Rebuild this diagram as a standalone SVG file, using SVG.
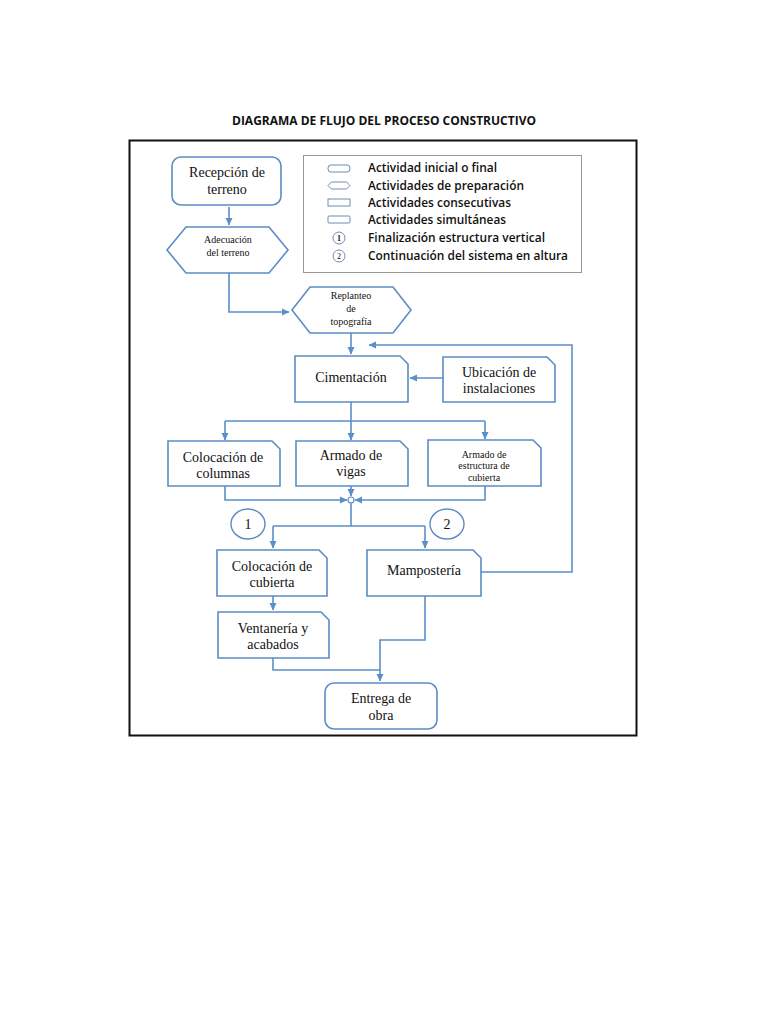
<svg xmlns="http://www.w3.org/2000/svg" width="768" height="1024" viewBox="0 0 768 1024">
<defs>
<marker id="ah" markerWidth="8" markerHeight="8" refX="7" refY="4" orient="auto" markerUnits="userSpaceOnUse">
<path d="M0,0.5 L7.5,4 L0,7.5 Z" fill="#5b8fc9"/>
</marker>
</defs>
<style>
.box{fill:#ffffff;stroke:#5b8cc4;stroke-width:1.6}
.ln{fill:none;stroke:#5b8fc9;stroke-width:1.6}
.arr{fill:none;stroke:#5b8fc9;stroke-width:1.6;marker-end:url(#ah)}
.t{font-family:"Liberation Serif","Times New Roman",serif;font-size:14px;fill:#111;text-anchor:middle}
.s{font-family:"Liberation Serif","Times New Roman",serif;font-size:10px;fill:#111;text-anchor:middle}
.lg{font-family:"Open Sans","Liberation Sans",sans-serif;font-size:12.5px;font-weight:600;fill:#111}
.ic{fill:#ffffff;stroke:#6d8db5;stroke-width:1}
</style>
<rect width="768" height="1024" fill="#ffffff"/>
<text x="384" y="125" font-family="Open Sans, Liberation Sans, sans-serif" font-size="12.5" font-weight="700" fill="#111" text-anchor="middle" textLength="304" lengthAdjust="spacingAndGlyphs">DIAGRAMA DE FLUJO DEL PROCESO CONSTRUCTIVO</text>
<rect x="129.5" y="140.5" width="507" height="595" fill="none" stroke="#111" stroke-width="2"/>

<g id="legend">
<rect x="303.5" y="155.5" width="278" height="117" fill="#ffffff" stroke="#999" stroke-width="1"/>
<rect class="ic" x="328" y="165" width="22" height="7" rx="3"/>
<path class="ic" d="M328,185.5 L331.5,182 H346.5 L350,185.5 L346.5,189 H331.5 Z"/>
<rect class="ic" x="328" y="199" width="22" height="7"/>
<rect class="ic" x="328" y="216" width="22" height="7" rx="1"/>
<circle class="ic" cx="339" cy="238" r="6"/>
<text x="339" y="241" font-family="Liberation Serif, serif" font-size="8" font-weight="700" text-anchor="middle" fill="#111">1</text>
<circle class="ic" cx="339" cy="256" r="6"/>
<text x="339" y="259" font-family="Liberation Serif, serif" font-size="8" text-anchor="middle" fill="#111">2</text>
<text class="lg" x="368" y="172" textLength="129" lengthAdjust="spacingAndGlyphs">Actividad inicial o final</text>
<text class="lg" x="368" y="190" textLength="156" lengthAdjust="spacingAndGlyphs">Actividades de preparación</text>
<text class="lg" x="368" y="207" textLength="143" lengthAdjust="spacingAndGlyphs">Actividades consecutivas</text>
<text class="lg" x="368" y="224" textLength="138" lengthAdjust="spacingAndGlyphs">Actividades simultáneas</text>
<text class="lg" x="368" y="242" textLength="177" lengthAdjust="spacingAndGlyphs">Finalización estructura vertical</text>
<text class="lg" x="368" y="260" textLength="200" lengthAdjust="spacingAndGlyphs">Continuación del sistema en altura</text>
</g>

<g id="connectors">
<line class="arr" x1="229" y1="207" x2="229" y2="225"/>
<polyline class="arr" points="229,273 229,312 289,312"/>
<line class="arr" x1="351" y1="333" x2="351" y2="354"/>
<line class="arr" x1="443" y1="378" x2="410" y2="378"/>
<line class="ln" x1="351" y1="402" x2="351" y2="421"/>
<line class="ln" x1="225" y1="421" x2="485" y2="421"/>
<line class="arr" x1="225" y1="421" x2="225" y2="440"/>
<line class="arr" x1="351" y1="421" x2="351" y2="440"/>
<line class="arr" x1="485" y1="421" x2="485" y2="439"/>
<polyline class="arr" points="225,486 225,500 347,500"/>
<line class="arr" x1="351" y1="486" x2="351" y2="496"/>
<polyline class="arr" points="485,486 485,500 355,500"/>
<circle cx="351" cy="500" r="3" fill="#ffffff" stroke="#5b8fc9" stroke-width="1.2"/>
<line class="ln" x1="351" y1="503" x2="351" y2="526"/>
<line class="ln" x1="273" y1="526" x2="425" y2="526"/>
<line class="arr" x1="273" y1="526" x2="273" y2="548"/>
<line class="arr" x1="425" y1="526" x2="425" y2="548"/>
<polyline class="arr" points="481,572 572,572 572,345 369,345"/>
<line class="arr" x1="273" y1="596" x2="273" y2="610"/>
<polyline class="ln" points="273,658 273,670 380,670"/>
<polyline class="arr" points="425,596 425,640 380,640 380,681"/>
</g>

<g id="recepcion">
<rect class="box" x="172" y="157" width="109" height="48" rx="9"/>
<text class="t" x="227" y="177">Recepción de</text>
<text class="t" x="227" y="194">terreno</text>
</g>

<g id="adecuacion">
<path class="box" d="M167,250 L186,227 H269 L288,250 L269,273 H186 Z"/>
<text class="s" x="228" y="243">Adecuación</text>
<text class="s" x="228" y="256">del terreno</text>
</g>

<g id="replanteo">
<path class="box" d="M292,310 L310,287 H393 L411,310 L393,333 H310 Z"/>
<text class="s" x="351" y="299">Replanteo</text>
<text class="s" x="351" y="312">de</text>
<text class="s" x="351" y="325">topografía</text>
</g>

<g id="cimentacion">
<path class="box" d="M295,356 H400 L408,364 V402 H295 Z"/>
<text class="t" x="351" y="382">Cimentación</text>
</g>

<g id="ubicacion">
<path class="box" d="M443,357 H547 L555,365 V402 H443 Z"/>
<text class="t" x="499" y="377">Ubicación de</text>
<text class="t" x="499" y="393">instalaciones</text>
</g>

<g id="columnas">
<path class="box" d="M168,441 H272 L280,449 V486 H168 Z"/>
<text class="t" x="223" y="462">Colocación de</text>
<text class="t" x="223" y="478">columnas</text>
</g>

<g id="vigas">
<path class="box" d="M296,441 H400 L408,449 V486 H296 Z"/>
<text class="t" x="351" y="460">Armado de</text>
<text class="t" x="351" y="476">vigas</text>
</g>

<g id="estructura-cubierta">
<path class="box" d="M428,440 H533 L541,448 V486 H428 Z"/>
<text class="s" x="484" y="458">Armado de</text>
<text class="s" x="484" y="469">estructura de</text>
<text class="s" x="484" y="481">cubierta</text>
</g>

<g id="marca1">
<ellipse cx="248" cy="524" rx="17" ry="15" fill="#ffffff" stroke="#5b8cc4" stroke-width="1.4"/>
<text class="t" x="248" y="529">1</text>
</g>

<g id="marca2">
<ellipse cx="447" cy="524" rx="17" ry="15" fill="#ffffff" stroke="#5b8cc4" stroke-width="1.4"/>
<text class="t" x="447" y="529">2</text>
</g>

<g id="cubierta">
<path class="box" d="M217,550 H319 L327,558 V596 H217 Z"/>
<text class="t" x="272" y="571">Colocación de</text>
<text class="t" x="272" y="587">cubierta</text>
</g>

<g id="mamposteria">
<path class="box" d="M367,550 H473 L481,558 V596 H367 Z"/>
<text class="t" x="424" y="575">Mampostería</text>
</g>

<g id="ventaneria">
<path class="box" d="M218,612 H321 L329,620 V658 H218 Z"/>
<text class="t" x="273" y="633">Ventanería y</text>
<text class="t" x="273" y="649">acabados</text>
</g>

<g id="entrega">
<rect class="box" x="325" y="683" width="112" height="46" rx="9"/>
<text class="t" x="381" y="703">Entrega de</text>
<text class="t" x="381" y="720">obra</text>
</g>
</svg>
